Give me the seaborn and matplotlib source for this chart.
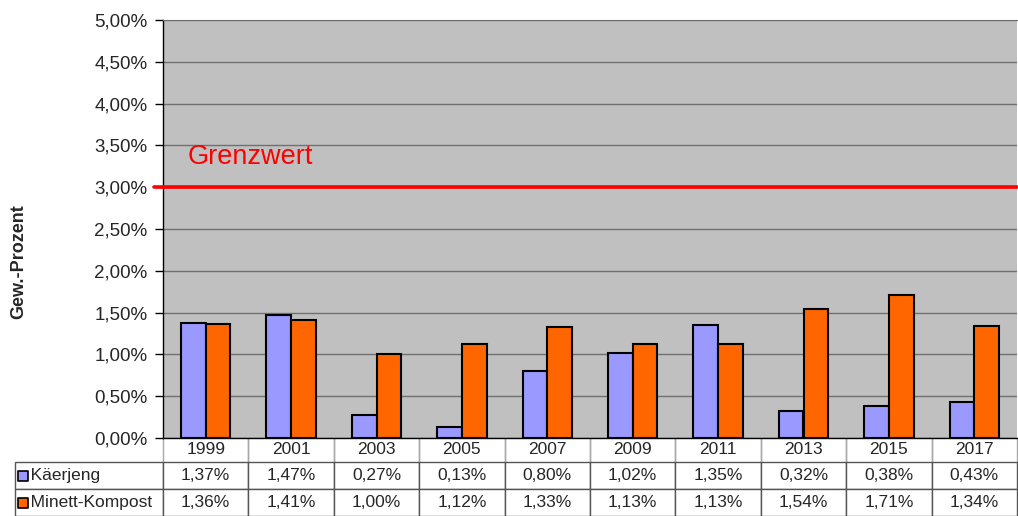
import numpy as np
import pandas as pd
import matplotlib
matplotlib.use("Agg")
import matplotlib.pyplot as plt
import seaborn as sns
from matplotlib.ticker import FuncFormatter

jahre = ["1999", "2001", "2003", "2005", "2007", "2009", "2011", "2013", "2015", "2017"]
kaerjeng = [1.37, 1.47, 0.27, 0.13, 0.80, 1.02, 1.35, 0.32, 0.38, 0.43]
minett = [1.36, 1.41, 1.00, 1.12, 1.33, 1.13, 1.13, 1.54, 1.71, 1.34]
serien = ["Käerjeng", "Minett-Kompost"]
farben = ["#9999FF", "#FF6600"]
grenzwert = 3.0

df = pd.DataFrame({
    "Jahr": jahre * 2,
    "Wert": kaerjeng + minett,
    "Serie": [serien[0]] * len(jahre) + [serien[1]] * len(jahre),
})

sns.set_style("white")
plt.rcParams["font.family"] = ["Liberation Sans", "DejaVu Sans"]

fig = plt.figure(figsize=(10.18, 5.16), dpi=100)
ax = fig.add_axes([163 / 1018, 1 - 438 / 516, (1017 - 163) / 1018, 418 / 516])
ax.set_facecolor("#C0C0C0")

sns.barplot(data=df, x="Jahr", y="Wert", hue="Serie", palette=farben, saturation=1,
            width=0.58, edgecolor="black", linewidth=1.5, ax=ax, legend=False, zorder=3)

ax.set_ylim(0, 5)
ax.set_xlim(-0.5, len(jahre) - 0.5)
ax.set_yticks(np.arange(0, 5.01, 0.5))
ax.yaxis.set_major_formatter(FuncFormatter(lambda v, p: f"{v:.2f}%".replace(".", ",")))
ax.tick_params(axis="y", labelsize=13.5, length=6, width=1, color="black", left=True, pad=5)
ax.tick_params(axis="x", bottom=False, labelbottom=False)
ax.grid(axis="y", color="#707070", linewidth=1, zorder=0)
ax.set_axisbelow(True)
ax.set_xlabel("")
ax.set_ylabel("")
for s in ["left", "bottom"]:
    ax.spines[s].set_color("black")
    ax.spines[s].set_linewidth(1)
ax.spines["top"].set_color("#707070")
ax.spines["right"].set_visible(False)

# Grenzwert
ax.axhline(grenzwert, xmin=-0.01, xmax=1, color="#FF0000", linewidth=2.6, clip_on=False, zorder=4)
ax.text(0.029, grenzwert + 0.2, "Grenzwert", color="#FF0000", fontsize=19.5,
        transform=ax.get_yaxis_transform(), va="bottom", ha="left")

fig.text(19 / 1018, 1 - 262 / 516, "Gew.-Prozent", rotation=90, fontsize=13,
         fontweight="bold", ha="center", va="center")

# Datentabelle (Kopfzeile + zwei Datenzeilen)
fmt = lambda v: f"{v:.2f}%".replace(".", ",")
zellen = [[""] + jahre,
          ["   " + serien[0]] + [fmt(v) for v in kaerjeng],
          ["   " + serien[1]] + [fmt(v) for v in minett]]
breite = 854.0
gesamt = 1017 - 15
spalten = [148 / gesamt] + [(gesamt - 148) / len(jahre) / gesamt] * len(jahre)
tab = ax.table(cellText=zellen, colWidths=spalten, cellLoc="center",
               bbox=[(15 - 163) / breite, -78 / 418, gesamt / breite, 78 / 418])
tab.auto_set_font_size(False)
tab.set_fontsize(12.5)
for (r, c), cell in tab.get_celld().items():
    cell.set_linewidth(1)
    cell.set_edgecolor("#555555")
    cell.set_facecolor("white")
    cell.set_height(24 if r == 0 else 27)
    if r == 0:
        if c == 0:
            cell.visible_edges = ""
        else:
            cell.set_edgecolor("#A8A8A8")
            cell.visible_edges = "LR"
    if c == 0:
        cell.get_text().set_ha("left")
        cell.PAD = 0.005

# kleine Legendensymbole in der Tabelle
for i, farbe in enumerate(farben):
    yk = -(24 + 27 * i + 13.5) / 418
    ax.scatter([(23 - 163) / breite], [yk], marker="s", s=60, color=farbe, edgecolor="black",
               linewidth=1.2, transform=ax.transAxes, clip_on=False, zorder=6)

fig.savefig("out.png", dpi=100)
